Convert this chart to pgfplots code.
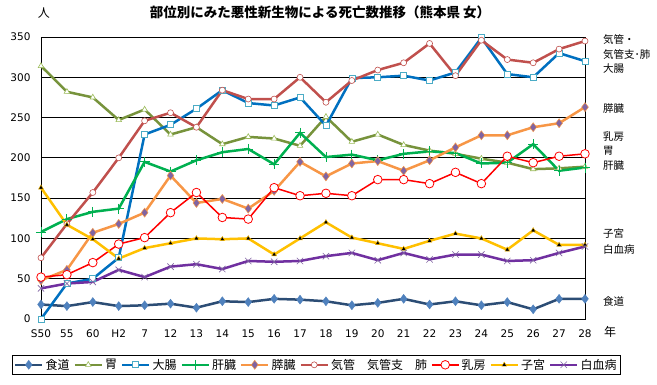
\documentclass[border=0pt]{standalone}
\usepackage{fontspec}
\setmainfont{DejaVu Sans}
\newfontfamily\jp{Noto Sans CJK JP}
\usepackage{pgfplots}
\pgfplotsset{compat=1.18}
\definecolor{cA}{HTML}{2C4D75}\definecolor{cAm}{HTML}{4F81BD}
\definecolor{cB}{HTML}{77933C}\definecolor{cBm}{HTML}{9BBB59}
\definecolor{cC}{HTML}{0070C0}\definecolor{cCm}{HTML}{4BACC6}
\definecolor{cD}{HTML}{00B050}
\definecolor{cE}{HTML}{F79646}\definecolor{cEm}{HTML}{8064A2}
\definecolor{cF}{HTML}{C0504D}
\definecolor{cG}{HTML}{FF0000}
\definecolor{cH}{HTML}{FFC000}
\definecolor{cI}{HTML}{7030A0}\definecolor{cIm}{HTML}{8064A2}
\begin{document}
\begin{tikzpicture}
\useasboundingbox (-41pt,-66pt) rectangle (616pt,319pt);
\begin{axis}[
  at={(0pt,0pt)}, anchor=south west,
  scale only axis, width=544pt, height=282pt,
  xmin=0, xmax=21, ymin=0, ymax=350,
  xtick={0,...,21},
  xticklabels={S50,55,60,H2,7,12,13,14,15,16,17,18,19,20,21,22,23,24,25,26,27,28},
  ytick={0,50,...,350},
  ymajorgrids, major grid style={black, line width=0.8pt},
  axis line style={black, line width=0.8pt},
  major tick length=0pt,
  /pgf/number format/assume math mode=true,
  ticklabel style={font=\fontsize{10.5}{12}\selectfont},
  yticklabel style={xshift=-7pt},
  xticklabel style={yshift=-7pt},
  clip=false,
  legend columns=9,
  legend cell align=left,
  legend style={at={(0.506,-0.128)}, anchor=north, draw=black, line width=0.8pt,
    font=\jp\fontsize{12}{13}\selectfont, inner sep=1.5pt,
    /tikz/every even column/.append style={column sep=2pt}},
  legend image code/.code={\draw[mark repeat=2,mark phase=2] plot coordinates {(0pt,0pt)(13.5pt,0pt)(27pt,0pt)};},
]
\addplot[cA, line width=2.5pt, mark=diamond*, mark size=4.5pt, mark options={line width=0.4pt, fill=cAm, draw=cAm}] coordinates {
(0,18)(1,16)(2,21)(3,16)(4,17)(5,19)(6,14)(7,22)(8,21)(9,25)(10,24)(11,22)(12,17)(13,20)(14,25)(15,18)(16,22)(17,17)(18,21)(19,12)(20,25)(21,25)};
\addlegendentry{食道}
\addplot[cB, line width=2.5pt, mark=triangle*, mark size=3.2pt, mark options={line width=0.6pt, fill=white, draw=cBm}] coordinates {
(0,314)(1,282)(2,275)(3,247)(4,260)(5,229)(6,238)(7,217)(8,226)(9,224)(10,215)(11,251)(12,220)(13,229)(14,216)(15,209)(16,205)(17,199)(18,194)(19,186)(20,187)(21,189)};
\addlegendentry{胃}
\addplot[cC, line width=2.5pt, mark=square*, mark size=3pt, mark options={line width=0.7pt, fill=white, draw=cCm}] coordinates {
(0,0)(1,44)(2,50)(3,76)(4,229)(5,241)(6,261)(7,284)(8,268)(9,265)(10,275)(11,240)(12,299)(13,300)(14,302)(15,296)(16,306)(17,349)(18,304)(19,300)(20,330)(21,320)};
\addlegendentry{大腸}
\addplot[cD, line width=2.5pt, mark=+, mark size=5pt, mark options={line width=0.9pt, draw=cD}] coordinates {
(0,108)(1,124)(2,133)(3,137)(4,195)(5,183)(6,197)(7,207)(8,211)(9,192)(10,231)(11,201)(12,204)(13,197)(14,205)(15,208)(16,206)(17,193)(18,194)(19,217)(20,184)(21,188)};
\addlegendentry{肝臓}
\addplot[cE, line width=2.5pt, mark=diamond*, mark size=4.5pt, mark options={line width=0.5pt, fill=cEm, draw=cE}] coordinates {
(0,48)(1,61)(2,107)(3,118)(4,132)(5,178)(6,144)(7,149)(8,137)(9,159)(10,195)(11,177)(12,193)(13,196)(14,184)(15,197)(16,213)(17,228)(18,228)(19,238)(20,243)(21,263)};
\addlegendentry{膵臓}
\addplot[cF, line width=2.5pt, mark=*, mark size=3pt, mark options={line width=0.6pt, fill=white, draw=cF}] coordinates {
(0,76)(1,118)(2,157)(3,200)(4,246)(5,256)(6,238)(7,284)(8,273)(9,273)(10,300)(11,269)(12,296)(13,309)(14,318)(15,342)(16,302)(17,346)(18,322)(19,318)(20,335)(21,345)};
\addlegendentry{気管　気管支　肺}
\addplot[cG, line width=1.5pt, mark=*, mark size=4.3pt, mark options={line width=0.8pt, fill=white, draw=cG}] coordinates {
(0,52)(1,55)(2,70)(3,93)(4,101)(5,132)(6,157)(7,126)(8,124)(9,163)(10,153)(11,156)(12,153)(13,173)(14,173)(15,168)(16,182)(17,168)(18,202)(19,194)(20,202)(21,205)};
\addlegendentry{乳房}
\addplot[cH, line width=2.5pt, mark=triangle*, mark size=2.8pt, mark options={line width=0.4pt, fill=black, draw=cH}] coordinates {
(0,163)(1,117)(2,99)(3,75)(4,88)(5,94)(6,100)(7,99)(8,100)(9,80)(10,100)(11,120)(12,101)(13,94)(14,87)(15,97)(16,106)(17,100)(18,86)(19,110)(20,92)(21,92)};
\addlegendentry{子宮}
\addplot[cI, line width=2.5pt, mark=x, mark size=4.5pt, mark options={line width=0.6pt, draw=cIm}] coordinates {
(0,38)(1,44)(2,46)(3,61)(4,52)(5,65)(6,68)(7,62)(8,72)(9,71)(10,72)(11,78)(12,82)(13,73)(14,82)(15,74)(16,80)(17,80)(18,72)(19,73)(20,82)(21,90)};
\addlegendentry{白血病}
\end{axis}
\node[font=\jp\bfseries\fontsize{13.5}{15}\selectfont] at (279pt,307pt) {部位別にみた悪性新生物による死亡数推移（熊本県 女）};
\node[font=\jp\fontsize{12}{13}\selectfont] at (3pt,306pt) {人};
\node[font=\jp\fontsize{12}{13}\selectfont] at (569pt,-13pt) {年};
\begin{scope}[every node/.style={anchor=west, inner sep=0pt, font=\jp\fontsize{10.5}{12}\selectfont}]
\node at (562pt,279pt) {気管・};
\node at (562pt,264pt) {気管支･肺};
\node at (562pt,250pt) {大腸};
\node at (562pt,210pt) {膵臓};
\node at (562pt,182pt) {乳房};
\node at (562pt,168pt) {胃};
\node at (562pt,153pt) {肝臓};
\node at (562pt,85pt) {子宮};
\node at (562pt,70pt) {白血病};
\node at (562pt,17pt) {食道};
\end{scope}
\end{tikzpicture}
\end{document}
